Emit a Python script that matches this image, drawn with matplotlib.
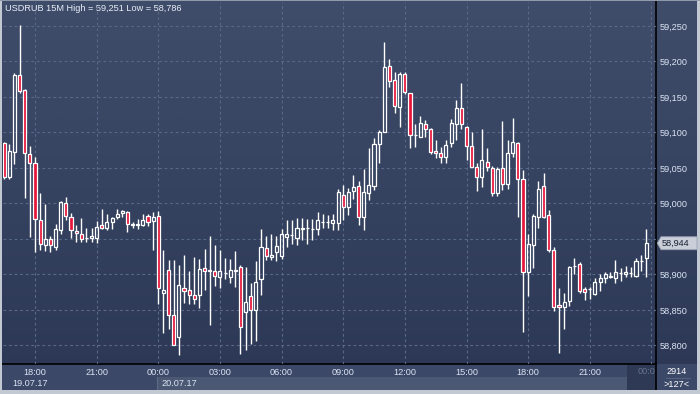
import matplotlib
matplotlib.use('Agg')
import matplotlib.pyplot as plt
import numpy as np
from matplotlib.patches import Rectangle, Polygon
from matplotlib.collections import LineCollection

# ---------------- data (15-minute candles, 19.07.17 16:30 -> 20.07.17 23:45) ----------------
opens = [59.085, 59.038, 59.072, 59.181, 59.160, 59.069, 59.057, 58.977, 58.941, 58.950,
         58.939, 58.962, 59.000, 58.981, 58.961, 58.957, 58.951, 58.952, 58.952, 58.969,
         58.966, 58.974, 58.981, 58.987, 58.988, 58.969, 58.969, 58.970, 58.982, 58.976,
         58.982, 58.874, 58.906, 58.843, 58.812, 58.881, 58.878, 58.871, 58.871, 58.909,
         58.905, 58.905, 58.897, 58.902, 58.897, 58.905, 58.910, 58.847, 58.869, 58.850,
         58.894, 58.937, 58.924, 58.932, 58.926, 58.953, 58.955, 58.952, 58.966, 58.965,
         58.964, 58.964, 58.974, 58.974, 58.973, 58.973, 59.012, 58.995, 59.017, 59.025,
         58.981, 59.015, 59.025, 59.084, 59.101, 59.194, 59.174, 59.136, 59.183, 59.155,
         59.096, 59.094, 59.112, 59.105, 59.074, 59.071, 59.065, 59.085, 59.112, 59.134,
         59.108, 59.081, 59.051, 59.037, 59.059, 59.050, 59.015, 59.050, 59.028, 59.071,
         59.085, 59.035, 58.903, 58.941, 58.981, 59.025, 58.984, 58.935, 58.857, 58.854,
         58.863, 58.912, 58.915, 58.880, 58.879, 58.873, 58.890, 58.895, 58.896, 58.895,
         58.902, 58.900, 58.902, 58.898, 58.919, 58.923]
highs = [59.087, 59.084, 59.184, 59.251, 59.161, 59.081, 59.065, 59.015, 58.999, 58.954,
         58.971, 59.004, 59.009, 58.986, 58.970, 58.979, 58.965, 58.966, 58.975, 58.992,
         58.985, 58.981, 58.992, 58.991, 58.989, 58.974, 58.978, 58.985, 58.985, 58.988,
         58.989, 58.935, 58.920, 58.920, 58.914, 58.927, 58.905, 58.925, 58.922, 58.936,
         58.954, 58.941, 58.935, 58.923, 58.922, 58.933, 58.913, 58.910, 58.888, 58.919,
         58.964, 58.954, 58.957, 58.954, 58.964, 58.977, 58.977, 58.980, 58.979, 58.978,
         58.978, 58.988, 58.985, 58.984, 58.985, 59.020, 59.026, 59.022, 59.040, 59.031,
         59.048, 59.078, 59.092, 59.103, 59.227, 59.204, 59.185, 59.185, 59.185, 59.156,
         59.112, 59.123, 59.118, 59.106, 59.089, 59.079, 59.089, 59.119, 59.146, 59.170,
         59.109, 59.101, 59.057, 59.105, 59.078, 59.053, 59.052, 59.116, 59.090, 59.121,
         59.087, 59.047, 58.957, 58.985, 59.031, 59.043, 58.991, 58.939, 58.881, 58.874,
         58.912, 58.923, 58.917, 58.882, 58.882, 58.895, 58.901, 58.903, 58.903, 58.920,
         58.909, 58.912, 58.910, 58.923, 58.927, 58.964]
lows = [59.035, 59.035, 59.056, 59.156, 59.008, 58.953, 58.931, 58.935, 58.933, 58.932,
        58.935, 58.957, 58.977, 58.952, 58.946, 58.946, 58.946, 58.946, 58.945, 58.964,
        58.963, 58.964, 58.978, 58.981, 58.960, 58.966, 58.964, 58.968, 58.968, 58.935,
        58.858, 58.818, 58.823, 58.800, 58.786, 58.860, 58.859, 58.859, 58.853, 58.878,
        58.829, 58.884, 58.881, 58.893, 58.888, 58.883, 58.788, 58.794, 58.802, 58.807,
        58.871, 58.920, 58.920, 58.919, 58.922, 58.939, 58.943, 58.942, 58.949, 58.943,
        58.948, 58.956, 58.965, 58.965, 58.963, 58.963, 58.977, 58.984, 59.006, 58.970,
        58.963, 59.005, 59.019, 59.057, 59.100, 59.164, 59.128, 59.108, 59.154, 59.078,
        59.080, 59.094, 59.094, 59.070, 59.064, 59.057, 59.057, 59.079, 59.089, 59.105,
        59.061, 59.051, 59.018, 59.023, 59.046, 59.011, 59.011, 59.019, 59.020, 59.066,
        58.981, 58.819, 58.870, 58.909, 58.966, 58.980, 58.932, 58.848, 58.790, 58.823,
        58.856, 58.901, 58.874, 58.864, 58.865, 58.871, 58.877, 58.888, 58.895, 58.888,
        58.891, 58.897, 58.897, 58.897, 58.905, 58.897]
closes = [59.037, 59.074, 59.181, 59.159, 59.071, 59.057, 58.978, 58.943, 58.950, 58.941,
          58.964, 59.002, 58.983, 58.962, 58.958, 58.950, 58.951, 58.954, 58.967, 58.966,
          58.974, 58.979, 58.985, 58.989, 58.971, 58.971, 58.971, 58.977, 58.974, 58.981,
          58.881, 58.878, 58.843, 58.801, 58.885, 58.877, 58.871, 58.866, 58.908, 58.905,
          58.907, 58.898, 58.905, 58.902, 58.906, 58.906, 58.826, 58.861, 58.850, 58.889,
          58.938, 58.926, 58.928, 58.940, 58.957, 58.957, 58.955, 58.966, 58.964, 58.965,
          58.964, 58.977, 58.974, 58.974, 58.977, 59.016, 58.995, 59.016, 59.023, 58.981,
          59.016, 59.026, 59.084, 59.100, 59.192, 59.172, 59.138, 59.182, 59.157, 59.097,
          59.096, 59.113, 59.105, 59.072, 59.071, 59.066, 59.083, 59.114, 59.135, 59.112,
          59.081, 59.052, 59.038, 59.061, 59.051, 59.015, 59.048, 59.028, 59.071, 59.087,
          59.035, 58.904, 58.943, 58.982, 59.021, 58.981, 58.935, 58.854, 58.854, 58.861,
          58.911, 58.912, 58.877, 58.875, 58.879, 58.889, 58.895, 58.901, 58.898, 58.903,
          58.902, 58.903, 58.902, 58.919, 58.919, 58.944]

time_labels = ['18:00', '21:00', '00:00', '03:00', '06:00', '09:00',
               '12:00', '15:00', '18:00', '21:00', '']
time_tick_idx = [6, 18, 30, 42, 54, 66, 78, 90, 102, 114, 126]
date_labels = ['19.07.17', '20.07.17']
price_ticks = [58.80, 58.85, 58.90, 58.95, 59.00, 59.05, 59.10, 59.15, 59.20, 59.25]
# the 58,950 label sits hidden under the last-price marker in the original
price_tick_labels = ['58,800', '58,850', '58,900', '', '59,000', '59,050',
                     '59,100', '59,150', '59,200', '59,250']
title = 'USDRUB 15M High = 59,251 Low = 58,786'
last_price_label = '58,944'
bar_count = '2914'
visible_count = '>127<'

# ---------------- figure ----------------
W, H = 700, 394
FONT = 'Liberation Sans'
FS = 6.6
plt.rcParams['font.family'] = [FONT, 'DejaVu Sans']

fig = plt.figure(figsize=(7.0, 3.94), dpi=100)

# background (pixel coordinates, y downward)
bg = fig.add_axes([0, 0, 1, 1])
bg.set_xlim(0, W)
bg.set_ylim(H, 0)
bg.set_axis_off()
t = np.linspace(0, 1, 256)[:, None, None]
top_c = np.array([63, 77, 107]) / 255.0
bot_c = np.array([43, 55, 84]) / 255.0
img = top_c + (bot_c - top_c) * t
bg.imshow(img, aspect='auto', extent=[0, W, H, 0], zorder=0)

# bottom time panel
bg.add_patch(Rectangle((2, 364), 654, 26, facecolor='#3b4868', edgecolor='none', zorder=1))
bg.add_patch(Rectangle((157, 377), 470, 13, facecolor='#4b5873', edgecolor='none', zorder=1))
bg.plot([157, 157], [377, 390], color='#5d6a84', lw=0.8, zorder=1.5)
bg.add_patch(Rectangle((627, 364), 29, 26, facecolor='#2e3a55', edgecolor='none', zorder=1.2))
bg.add_patch(Rectangle((656, 364), 41, 26, facecolor='#3b4868', edgecolor='none', zorder=1))
bg.plot([666, 690], [377.5, 377.5], color='#56647f', lw=0.7, zorder=1.5)
# separators
bg.plot([2, 656], [364, 364], color='black', lw=1.2, zorder=2)
bg.plot([656, 656], [1, 390], color='black', lw=1.2, zorder=2)
# outer frame
frame_c = '#c3c9d3'
bg.add_patch(Rectangle((0, 0), 2, H, facecolor=frame_c, edgecolor='none', zorder=3))
bg.add_patch(Rectangle((697, 0), 3, H, facecolor=frame_c, edgecolor='none', zorder=3))
bg.add_patch(Rectangle((0, 390), W, 4, facecolor=frame_c, edgecolor='none', zorder=3))
bg.add_patch(Rectangle((0, 0), W, 1, facecolor='#8f99aa', edgecolor='none', zorder=3))

txt_c = '#dbe4f3'
bg.text(5, 8.5, title, color='#e9eef8', fontsize=FS, ha='left', va='center', zorder=4)
bg.text(12, 383.5, date_labels[0], color=txt_c, fontsize=FS, ha='left', va='center', zorder=4)
bg.text(161, 383.5, date_labels[1], color=txt_c, fontsize=FS, ha='left', va='center', zorder=4)
bg.text(655.5, 371.5, '00:0', color='#66738e', fontsize=FS, ha='right', va='center', zorder=4)
bg.text(677, 371.5, bar_count, color='white', fontsize=FS, ha='center', va='center', zorder=4)
bg.text(677, 384.5, visible_count, color='white', fontsize=FS, ha='center', va='center', zorder=4)

# ---------------- main price axes ----------------
ax = fig.add_axes([3 / W, 1 - 364 / H, 653 / W, 362 / H])
ax.patch.set_alpha(0)
for s in ax.spines.values():
    s.set_visible(False)
ax.set_xlim(-0.23, 126.89)
ax.set_ylim(58.7739, 59.2838)

ax.set_xticks(time_tick_idx)
ax.set_xticklabels(time_labels)
ax.set_yticks(price_ticks)
ax.set_yticklabels(price_tick_labels)
ax.yaxis.tick_right()
ax.tick_params(axis='both', length=0, colors=txt_c, labelsize=FS)
ax.tick_params(axis='x', pad=3.2)
ax.tick_params(axis='y', pad=2.5)
ax.set_axisbelow(True)
ax.grid(True, color='#586889', linestyle=(0, (2.5, 2.5)), linewidth=0.8)

red = '#e5163b'
wick_segs = []
for i, (o, h, l, c) in enumerate(zip(opens, highs, lows, closes)):
    lo_b, hi_b = min(o, c), max(o, c)
    if h > hi_b:
        wick_segs.append([(i, hi_b), (i, h)])
    if l < lo_b:
        wick_segs.append([(i, l), (i, lo_b)])
    fc = red if c < o else 'none'
    ax.add_patch(Rectangle((i - 0.3, lo_b), 0.6, hi_b - lo_b, facecolor=fc,
                           edgecolor='white', linewidth=0.9, zorder=3))
ax.add_collection(LineCollection(wick_segs, colors='white', linewidths=1.0, zorder=2.5))

# last price marker
last = closes[-1]
hh = 0.0091
tr = ax.get_yaxis_transform()
x0 = 1 + 1.3 / 653
x1 = 1 + 5.0 / 653
x2 = 1 + 41.0 / 653
ax.add_patch(Polygon([(x0, last), (x1, last + hh), (x2, last + hh), (x2, last - hh), (x1, last - hh)],
                     closed=True, transform=tr, facecolor='#c9ced8', edgecolor='#9aa3b3',
                     linewidth=0.6, clip_on=False, zorder=10))
ax.text(1 + 5.8 / 653, last, last_price_label, transform=tr, color='#1a2233', fontsize=FS,
        ha='left', va='center', clip_on=False, zorder=11)

fig.savefig('out.png', dpi=100)
